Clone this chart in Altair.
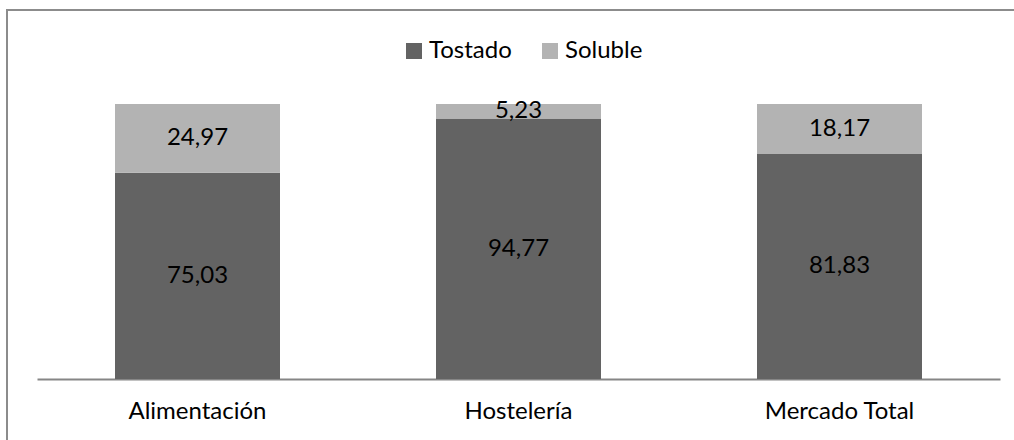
import altair as alt
import pandas as pd

categories = ["Alimentación", "Hostelería", "Mercado Total"]
tostado = [75.03, 94.77, 81.83]
soluble = [24.97, 5.23, 18.17]
series = ["Tostado", "Soluble"]

rows = []
for i, cat in enumerate(categories):
    rows.append({"categoria": cat, "tipo": "Tostado", "orden": 0, "valor": tostado[i]})
    rows.append({"categoria": cat, "tipo": "Soluble", "orden": 1, "valor": soluble[i]})
df = pd.DataFrame(rows)

FONT = "Lato"
FS = 24

base = alt.Chart(df).transform_stack(
    stack="valor", groupby=["categoria"], as_=["y0", "y1"],
    sort=[alt.SortField("orden", order="ascending")],
).transform_calculate(
    mid="(datum.y0 + datum.y1) / 2",
    etiqueta="replace(format(datum.valor, '.2f'), '.', ',')",
)

x_enc = alt.X(
    "categoria:N", sort=categories, title=None,
    scale=alt.Scale(paddingInner=0.486, paddingOuter=0.243),
    axis=alt.Axis(labelAngle=0, ticks=False, domainColor="#868686", domainWidth=2,
                  labelFont=FONT, labelFontSize=FS, labelColor="#000000",
                  labelPadding=20, grid=False),
)
y_scale = alt.Scale(domain=[0, 100], nice=False)

bars = base.mark_bar().encode(
    x=x_enc,
    y=alt.Y("y0:Q", scale=y_scale, axis=None),
    y2="y1:Q",
    color=alt.Color(
        "tipo:N", sort=series,
        scale=alt.Scale(domain=series, range=["#636363", "#b3b3b3"]),
        legend=alt.Legend(
            title=None, orient="none", direction="horizontal",
            legendX=365, legendY=-65, symbolType="square", symbolSize=256,
            symbolStrokeWidth=0, labelFont=FONT, labelFontSize=FS,
            labelColor="#000000", columnPadding=26, labelOffset=3,
        ),
    ),
)

labels = base.mark_text(font=FONT, fontSize=FS, color="#000000").encode(
    x=alt.X("categoria:N", sort=categories),
    y=alt.Y("mid:Q", scale=y_scale),
    text="etiqueta:N",
)

# outer frame of the figure
frame = alt.Chart(pd.DataFrame({"k": [0]})).mark_rect(
    fill=None, stroke="#8c8c8c", strokeWidth=2
).encode(
    x=alt.value(-30), x2=alt.value(1100),
    y=alt.value(-94), y2=alt.value(500),
)

chart = alt.layer(frame, bars, labels).properties(
    width=963, height=275,
    autosize=alt.AutoSizeParams(type="none"),
    padding={"left": 37, "top": 104, "right": 14, "bottom": 61},
    background="#ffffff",
).configure_view(stroke=None)

chart.save("out.html", embed_options={"renderer": "svg", "actions": False})
